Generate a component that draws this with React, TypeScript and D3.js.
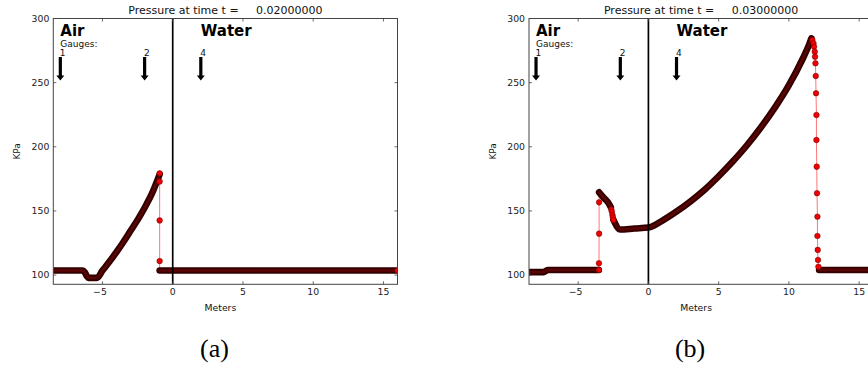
import React from "react";
import * as d3 from "d3";

// ---------------- data ----------------
const xTicks = [-5, 0, 5, 10, 15];
const yTicks = [100, 150, 200, 250, 300];
const xDomain = [-8.5, 16];
const yDomain = [92.8, 300];
const gaugeX = [-8, -2, 2];
const gaugeNames = ["1", "2", "4"];
const gaugeTop = 270;
const gaugeTip = 251.7;
const interfaceX = 0;
const timeLabels = ["0.02000000", "0.03000000"];
const panelLetters = ["(a)", "(b)"];

// Panel (a): t = 0.02
const aBandLeftX = [-8.5, -6.4, -6.25, -6.1, -6.0, -5.4, -5.0, -4.5, -4.0, -3.5, -3.0, -2.5, -2.0, -1.5, -0.93];
const aBandLeftP = [103.5, 103.5, 102, 99, 97.8, 97.8, 103.5, 110.5, 118, 126, 134.5, 143, 152.5, 163, 178.5];
const aShockX = [-0.93, -0.93, -0.93, -0.93];
const aShockP = [179.3, 172.9, 142.6, 110.9];
const aBandRightX = [-0.93, 16];
const aBandRightP = [103.5, 103.5];

// Panel (b): t = 0.03
const bBandLeftX = [-8.5, -7.45, -7.3, -7.15, -3.53];
const bBandLeftP = [102.3, 102.3, 103.2, 104, 104];
const bShock1X = [-3.52, -3.52, -3.51, -3.51];
const bShock1P = [104, 109.2, 132.3, 156.7];
const bBandMidX = [-3.51, -3.2, -2.9, -2.68];
const bBandMidP = [164.5, 160.5, 157, 153];
const bMidX = [-2.64, -2.6, -2.56, -2.53, -2.49];
const bMidP = [151, 149.4, 146.8, 145, 143];
const bBandRiseX = [-2.49, -2.0, -1.0, 0, 1, 2, 3, 4, 5, 6, 7, 8, 9, 10, 11, 11.45, 11.6];
const bBandRiseP = [143, 135.5, 136.3, 137, 142.5, 149.5, 157.5, 166.5, 177, 188.5, 201, 215, 230.5, 248, 269, 280, 284.5];
const bShock2X = [11.67, 11.75, 11.79, 11.84, 11.86, 11.89, 11.91, 11.93, 11.96, 11.96, 11.98, 12.0, 12.03, 12.03, 12.05, 12.07, 12.1];
const bShock2P = [283.2, 280.7, 278.0, 274.1, 270.2, 265.1, 255.2, 241.7, 224.8, 205.3, 184.5, 163.8, 145.5, 130.5, 119.6, 111.8, 106.5];
const bBandRightX = [12.15, 16];
const bBandRightP = [104, 104];

type Seg = { x: number[]; p: number[]; dense: boolean };

const panelA: Seg[] = [
  { x: aBandLeftX, p: aBandLeftP, dense: true },
  { x: aShockX, p: aShockP, dense: false },
  { x: aBandRightX, p: aBandRightP, dense: true },
];
const panelB: Seg[] = [
  { x: bBandLeftX, p: bBandLeftP, dense: true },
  { x: bShock1X, p: bShock1P, dense: false },
  { x: bBandMidX, p: bBandMidP, dense: true },
  { x: bMidX, p: bMidP, dense: false },
  { x: bBandRiseX, p: bBandRiseP, dense: true },
  { x: bShock2X, p: bShock2P, dense: false },
  { x: bBandRightX, p: bBandRightP, dense: true },
];

// ---------------- layout ----------------
const W = 868;
const H = 368;
const AX_LEFT = 53.3;
const AX_W = 344.2;
const AX_TOP = 18.5;
const AX_BOTTOM = 284.3;
const PANEL_DX = [0, 475.7];
const FONT = "DejaVu Sans, sans-serif";

function Panel({ idx, segs }: { idx: number; segs: Seg[] }) {
  const left = AX_LEFT + PANEL_DX[idx];
  const right = left + AX_W;
  const x = d3.scaleLinear().domain(xDomain).range([left, right]);
  const y = d3.scaleLinear().domain(yDomain).range([AX_BOTTOM, AX_TOP]);
  const cx = (left + right) / 2;
  const clipId = `clip${idx}`;

  const allPts: [number, number][] = [];
  segs.forEach((s) => s.x.forEach((v, i) => allPts.push([v, s.p[i]])));
  const line = d3
    .line<[number, number]>()
    .x((d) => x(d[0]))
    .y((d) => y(d[1]));
  const bandLine = d3
    .line<[number, number]>()
    .x((d) => x(d[0]))
    .y((d) => y(d[1]))
    .curve(d3.curveMonotoneX);

  const last = allPts[allPts.length - 1];

  return (
    <g>
      <defs>
        <clipPath id={clipId}>
          <rect x={left} y={AX_TOP} width={AX_W} height={AX_BOTTOM - AX_TOP} />
        </clipPath>
      </defs>
      <g clipPath={`url(#${clipId})`}>
        <path d={line(allPts) || ""} fill="none" stroke="#ff1a1a" strokeOpacity={0.6} strokeWidth={1} />
        {segs
          .filter((s) => s.dense)
          .map((s, i) => {
            const pts = s.x.map((v, j) => [v, s.p[j]] as [number, number]);
            return (
              <g key={i}>
                <path d={bandLine(pts) || ""} fill="none" stroke="#330000" strokeWidth={6.6} strokeLinecap="round" strokeLinejoin="round" />
                <path d={bandLine(pts) || ""} fill="none" stroke="#6e0505" strokeWidth={2.4} strokeOpacity={0.7} strokeLinecap="round" strokeLinejoin="round" />
              </g>
            );
          })}
        {segs
          .filter((s) => !s.dense)
          .map((s, i) =>
            s.x.map((v, j) => (
              <circle key={`${i}-${j}`} cx={x(v)} cy={y(s.p[j])} r={2.8} fill="#f00000" stroke="#600000" strokeWidth={0.5} />
            ))
          )}
        <circle cx={x(last[0])} cy={y(last[1])} r={2.8} fill="#f00000" stroke="#600000" strokeWidth={0.5} />
        <line x1={x(interfaceX)} x2={x(interfaceX)} y1={AX_TOP} y2={AX_BOTTOM} stroke="#000" strokeWidth={1.7} />
      </g>

      {/* gauges */}
      {gaugeX.map((g, i) => {
        const gx = x(g);
        const yt = y(gaugeTop);
        const yp = y(gaugeTip);
        const hb = yp - 5;
        return (
          <g key={i}>
            <path
              d={`M${gx - 1.6},${yt}L${gx + 1.6},${yt}L${gx + 1.6},${hb}L${gx + 4},${hb}L${gx},${yp}L${gx - 4},${hb}L${gx - 1.6},${hb}Z`}
              fill="#000"
            />
            <text x={gx - 0.5} y={yt - 1} fontFamily={FONT} fontSize={9} fill="#111">
              {gaugeNames[i]}
            </text>
          </g>
        );
      })}
      <text x={x(-8)} y={y(286.2)} fontFamily={FONT} fontSize={15} fontWeight="bold" fill="#000">
        Air
      </text>
      <text x={x(2)} y={y(286.2)} fontFamily={FONT} fontSize={15} fontWeight="bold" fill="#000">
        Water
      </text>
      <text x={x(-8)} y={y(277.6)} fontFamily={FONT} fontSize={9} fill="#111">
        Gauges:
      </text>

      {/* spines */}
      <rect x={left} y={AX_TOP} width={AX_W} height={AX_BOTTOM - AX_TOP} fill="none" stroke="#444" strokeWidth={1} />
      {/* ticks */}
      {xTicks.map((t) => (
        <g key={`xt${t}`}>
          <line x1={x(t)} x2={x(t)} y1={AX_BOTTOM} y2={AX_BOTTOM - 3} stroke="#444" strokeWidth={0.8} />
          <line x1={x(t)} x2={x(t)} y1={AX_TOP} y2={AX_TOP + 3} stroke="#444" strokeWidth={0.8} />
          <text x={x(t) + (t < 0 ? -2.5 : 0)} y={295} textAnchor="middle" fontFamily={FONT} fontSize={9.3} fill="#222">
            {t < 0 ? `\u2212${Math.abs(t)}` : `${t}`}
          </text>
        </g>
      ))}
      {yTicks.map((t) => (
        <g key={`yt${t}`}>
          <line x1={left} x2={left + 3} y1={y(t)} y2={y(t)} stroke="#444" strokeWidth={0.8} />
          <line x1={right} x2={right - 3} y1={y(t)} y2={y(t)} stroke="#444" strokeWidth={0.8} />
          <text x={left - 4} y={y(t) + 3.3} textAnchor="end" fontFamily={FONT} fontSize={9.3} fill="#222">
            {t}
          </text>
        </g>
      ))}

      {/* title */}
      <text x={cx} y={14.3} textAnchor="middle" fontFamily={FONT} fontSize={11} fill="#111" xmlSpace="preserve" style={{ whiteSpace: "pre" }}>
        {`Pressure at time t =     ${timeLabels[idx]}`}
      </text>
      {/* axis labels */}
      <text x={cx - 5} y={310.5} textAnchor="middle" fontFamily={FONT} fontSize={9.3} fill="#111">
        Meters
      </text>
      <text
        transform={`translate(${left - 33.5},${(AX_TOP + AX_BOTTOM) / 2}) rotate(-90)`}
        textAnchor="middle"
        fontFamily={FONT}
        fontSize={9}
        fill="#111"
      >
        KPa
      </text>
      <text x={cx - 11} y={356.5} textAnchor="middle" fontFamily="Liberation Serif, serif" fontSize={26} fill="#000">
        {panelLetters[idx]}
      </text>
    </g>
  );
}

export default function App() {
  return (
    <svg
      width={W}
      height={H}
      viewBox={`0 0 ${W} ${H}`}
      style={{ position: "absolute", left: 0, top: 0, background: "#fff" }}
    >
      <rect width={W} height={H} fill="#fff" />
      <Panel idx={0} segs={panelA} />
      <Panel idx={1} segs={panelB} />
    </svg>
  );
}
